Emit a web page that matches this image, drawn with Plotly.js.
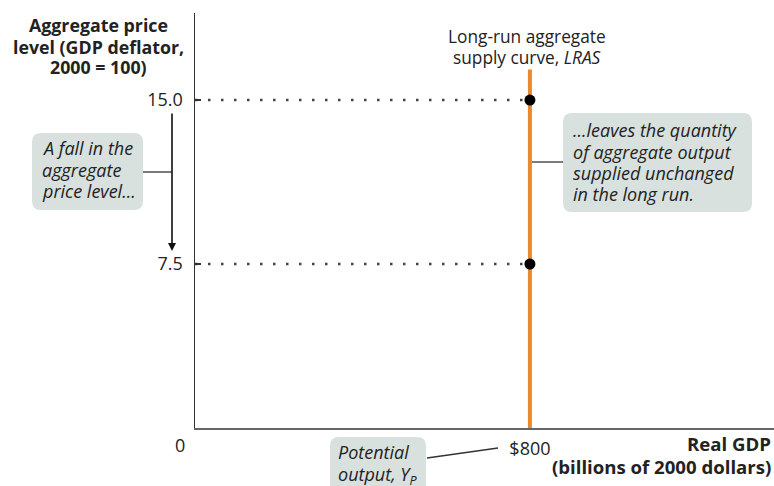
<!DOCTYPE html>
<html>
<head>
<meta charset="utf-8">
<script src="https://cdn.plot.ly/plotly-3.0.1.min.js"></script>
<style>html,body{margin:0;padding:0;background:#fff;}#chart{width:774px;height:486px;}</style>
</head>
<body>
<div id="chart"></div>
<script>
// ---- data ----
const priceLevels = [15.0, 7.5];          // aggregate price level points
const potentialOutput = 800;               // Y_P, billions of 2000 dollars
const lrasX = [800, 800];
const lrasY = [0, 16.4];
const yTickVals = [7.5, 15.0];
const yTickText = ['7.5', '15.0'];
const xTickVals = [800];
const xTickText = ['$800'];
const xRange = [0, 1383];
const yRange = [0, 18.98];

// ---- geometry (pixels) ----
const W = 774, Hh = 486;
const L = 195, T = 13, R = 0, B = 58;
const PW = W - L - R, PH = Hh - T - B;
const px = v => (v - L) / PW;
const py = v => (Hh - B - v) / PH;

function roundRect(x0, y0, x1, y1, r) {
  const X = v => px(v).toFixed(5), Y = v => py(v).toFixed(5);
  return 'M' + X(x0 + r) + ',' + Y(y0) +
    ' L' + X(x1 - r) + ',' + Y(y0) +
    ' Q' + X(x1) + ',' + Y(y0) + ' ' + X(x1) + ',' + Y(y0 + r) +
    ' L' + X(x1) + ',' + Y(y1 - r) +
    ' Q' + X(x1) + ',' + Y(y1) + ' ' + X(x1 - r) + ',' + Y(y1) +
    ' L' + X(x0 + r) + ',' + Y(y1) +
    ' Q' + X(x0) + ',' + Y(y1) + ' ' + X(x0) + ',' + Y(y1 - r) +
    ' L' + X(x0) + ',' + Y(y0 + r) +
    ' Q' + X(x0) + ',' + Y(y0) + ' ' + X(x0 + r) + ',' + Y(y0) + ' Z';
}

const FONT = '"Open Sans", Lato, sans-serif';
const TXT = '#222';
const BOX = '#d9e1de';
const LEAD = '#333';

const traces = [];
priceLevels.forEach(p => {
  traces.push({
    x: [0, potentialOutput], y: [p, p], mode: 'lines', type: 'scatter',
    line: {color: '#444', width: 2.5, dash: '2.5px,10.5px'},
    hoverinfo: 'skip', showlegend: false
  });
});
traces.push({
  x: lrasX, y: lrasY, mode: 'lines', type: 'scatter',
  line: {color: '#e8892f', width: 4}, hoverinfo: 'skip', showlegend: false
});
traces.push({
  x: priceLevels.map(() => potentialOutput), y: priceLevels,
  mode: 'markers', type: 'scatter',
  marker: {color: '#000', size: 11}, hoverinfo: 'skip', showlegend: false
});

const shapes = [
  {type: 'path', xref: 'paper', yref: 'paper', path: roundRect(32, 133, 143, 210, 9), fillcolor: BOX, line: {width: 0}, layer: 'below'},
  {type: 'path', xref: 'paper', yref: 'paper', path: roundRect(563, 113, 752, 212, 9), fillcolor: BOX, line: {width: 0}, layer: 'below'},
  {type: 'path', xref: 'paper', yref: 'paper', path: roundRect(330, 437, 426, 505, 9), fillcolor: BOX, line: {width: 0}, layer: 'below'},
  {type: 'line', xref: 'paper', yref: 'paper', x0: px(143), y0: py(172), x1: px(172), y1: py(172), line: {color: LEAD, width: 1.3}},
  {type: 'line', xref: 'paper', yref: 'paper', x0: px(532), y0: py(162), x1: px(563), y1: py(162), line: {color: LEAD, width: 1.3}},
  {type: 'line', xref: 'paper', yref: 'paper', x0: px(427), y0: py(458), x1: px(498), y1: py(448), line: {color: LEAD, width: 1.3}}
];

const annotations = [];
// one annotation per line so line spacing matches the reference
function lines(x, ys, texts, anchor, size, weight, italic) {
  texts.forEach((t, i) => {
    annotations.push({
      xref: 'paper', yref: 'paper', x: px(x), y: py(ys[i]),
      text: italic ? '<i>' + t + '</i>' : t, showarrow: false, borderpad: 0,
      font: {family: FONT, size: size, color: TXT, weight: weight || 'normal'},
      xanchor: anchor, yanchor: 'middle', align: anchor
    });
  });
}

lines(98, [25, 46.5, 67.5], ['Aggregate price', 'level (GDP deflator,', '2000 = 100)'], 'center', 17.8, 'bold');
lines(527, [36, 57.5], ['Long-run aggregate', 'supply curve, <i>LRAS</i>'], 'center', 17.3);
lines(41, [148, 169.5, 191], ['A fall in the', 'aggregate', 'price level...'], 'left', 18, 'normal', true);
lines(572, [130, 151.5, 173, 194.5], ['...leaves the quantity', 'of aggregate output', 'supplied unchanged', 'in the long run.'], 'left', 18, 'normal', true);
lines(337, [452, 475], ['Potential', 'output, Y<sub>P</sub>'], 'left', 18, 'normal', true);
lines(772, [443, 466], ['Real GDP', '(billions of 2000 dollars)'], 'right', 18.6, 'bold');
lines(180, [445], ['0'], 'center', 18);

annotations.push({xref: 'paper', yref: 'paper', x: px(172), y: py(251), ax: 0, ay: -139, axref: 'pixel', ayref: 'pixel',
  text: '', showarrow: true, arrowhead: 2, arrowsize: 1, arrowwidth: 1.6, arrowcolor: '#111', standoff: 0});

const layout = {
  width: W, height: Hh,
  margin: {l: L, r: R, t: T, b: B, pad: 0},
  paper_bgcolor: '#fff', plot_bgcolor: '#fff',
  showlegend: false,
  xaxis: {
    range: xRange, showgrid: false, zeroline: false,
    showline: true, linecolor: '#666', linewidth: 2,
    tickmode: 'array', tickvals: xTickVals, ticktext: xTickText,
    ticks: '', ticklabelstandoff: 3,
    tickfont: {family: FONT, size: 18, color: TXT}
  },
  yaxis: {
    range: yRange, showgrid: false, zeroline: false,
    showline: true, linecolor: '#333', linewidth: 1.5,
    tickmode: 'array', tickvals: yTickVals, ticktext: yTickText,
    ticks: 'inside', ticklen: 6, tickcolor: '#333', tickwidth: 1.2,
    ticklabelstandoff: 7,
    tickfont: {family: FONT, size: 18, color: TXT}
  },
  shapes: shapes,
  annotations: annotations
};

Plotly.newPlot('chart', traces, layout, {staticPlot: true, displayModeBar: false});
</script>
</body>
</html>
